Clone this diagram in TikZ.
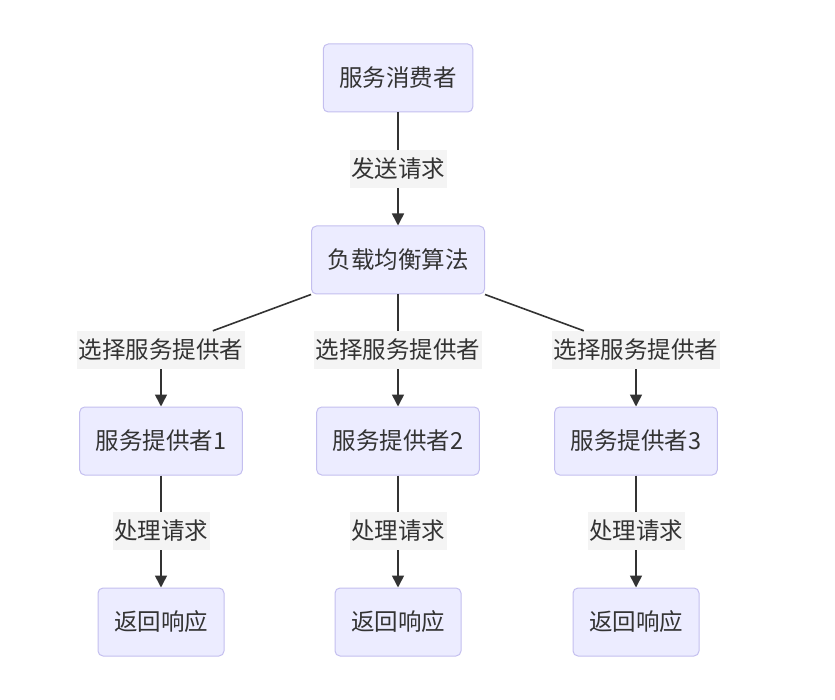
\documentclass[tikz,border=0pt]{standalone}
\usepackage{fontspec}
\newfontfamily\cjk{Noto Sans CJK SC}
\usetikzlibrary{arrows.meta}
\definecolor{boxfill}{HTML}{ECECFF}
\definecolor{boxline}{HTML}{C4BFEF}
\definecolor{tagfill}{HTML}{F4F4F4}
\definecolor{ink}{HTML}{333333}

\begin{document}
\begin{tikzpicture}[x=1pt,y=-1pt,font=\cjk\fontsize{23.5}{28}\selectfont,
  box/.style={draw=boxline,line width=1pt,fill=boxfill,rounded corners=5pt,inner xsep=16pt,minimum height=68pt,text=ink},
  tag/.style={fill=tagfill,inner xsep=1.5pt,inner ysep=0pt,minimum height=38pt,text=ink},
  link/.style={draw=ink,line width=1.6pt},
  arrow/.style={link,-{Triangle[length=12pt,width=12pt]}}]
\useasboundingbox (0,0) rectangle (835,700);
\node[box] (con) at (398,78) {服务消费者};
\node[tag] (send) at (398,169) {发送请求};
\node[box] (lb) at (398,260) {负载均衡算法};
% one column per provider
\foreach \i/\x in {1/161,2/398,3/636} {
  \node[tag] (sel\i) at (\x,350) {选择服务提供者};
  \node[box] (p\i) at (\x,441) {服务提供者\i};
  \node[tag] (proc\i) at (\x,531) {处理请求};
  \node[box] (ret\i) at (\x,622) {返回响应};
  \draw[arrow] (sel\i) -- (p\i);
  \draw[link] (p\i) -- (proc\i);
  \draw[arrow] (proc\i) -- (ret\i);
}
\draw[link] (con) -- (send);
\draw[arrow] (send) -- (lb);
\draw[link] (lb.south west) -- (sel1);
\draw[link] (lb) -- (sel2);
\draw[link] (lb.south east) -- (sel3);
\end{tikzpicture}
\end{document}
